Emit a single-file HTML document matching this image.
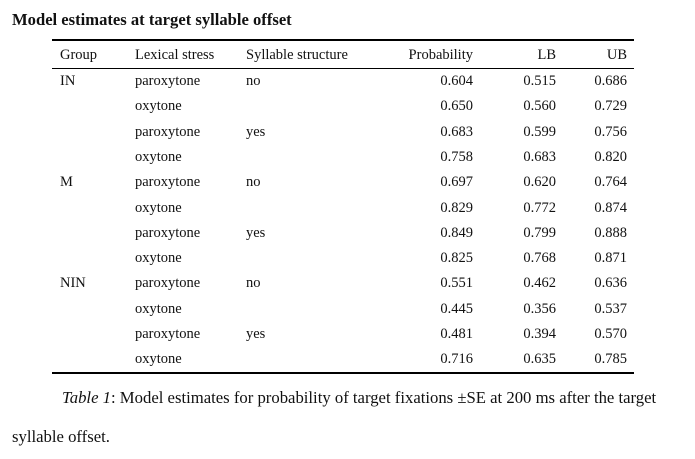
<!DOCTYPE html>
<html><head><meta charset="utf-8"><style>
body{margin:0;width:695px;height:459px;background:#fff;font-family:"Liberation Serif",serif;color:#111;position:relative;overflow:hidden}
.t{position:absolute;white-space:nowrap;font-size:14.5px;line-height:16px}
.r{text-align:right}
.rule{position:absolute;left:52px;width:582px;background:#000}
</style></head><body>
<div class="t" style="left:12px;top:11px;font-weight:bold;font-size:16.6px;line-height:18px">Model estimates at target syllable offset</div>
<div class="rule" style="top:39px;height:2px"></div>
<div class="rule" style="top:68px;height:1px"></div>
<div class="rule" style="top:372px;height:2px"></div>
<div id="tbl"></div>
<div class="t" style="left:62px;top:389px;font-size:16.7px;line-height:18px"><i>Table 1</i>: Model estimates for probability of target fixations ±SE at 200 ms after the target</div>
<div class="t" style="left:12px;top:428px;font-size:16.7px;line-height:18px">syllable offset.</div>
<script>
const headers=["Group","Lexical stress","Syllable structure","Probability","LB","UB"];
const groups=["IN","","","","M","","","","NIN","","",""];
const stress=["paroxytone","oxytone","paroxytone","oxytone","paroxytone","oxytone","paroxytone","oxytone","paroxytone","oxytone","paroxytone","oxytone"];
const structure=["no","","yes","","no","","yes","","no","","yes",""];
const prob=["0.604","0.650","0.683","0.758","0.697","0.829","0.849","0.825","0.551","0.445","0.481","0.716"];
const lb=["0.515","0.560","0.599","0.683","0.620","0.772","0.799","0.768","0.462","0.356","0.394","0.635"];
const ub=["0.686","0.729","0.756","0.820","0.764","0.874","0.888","0.871","0.636","0.537","0.570","0.785"];
const colX=[60,135,246,473,556,627];
const align=["l","l","l","r","r","r"];
const root=document.getElementById('tbl');
function cell(txt,ci,y,name){
  const d=document.createElement('div');
  d.className='t'+(align[ci]=='r'?' r':'');
  if(align[ci]=='r'){d.style.right=(695-colX[ci])+'px';}else{d.style.left=colX[ci]+'px';}
  d.style.top=y+'px';
  d.textContent=txt;
  
  
  root.appendChild(d);
}
const hn=["header-group","header-lexical-stress","header-syllable-structure","header-probability","header-lb","header-ub"];
headers.forEach((h,i)=>cell(h,i,47,hn[i]));
const cols=[groups,stress,structure,prob,lb,ub];
const cn=["group","stress","structure","probability","lb","ub"];
for(let r=0;r<prob.length;r++){
  const y=73+r*25.3;
  cols.forEach((c,ci)=>{ if(c[r]) cell(c[r],ci,y,cn[ci]+'-row-'+(r+1)); });
}
</script>
</body></html>
